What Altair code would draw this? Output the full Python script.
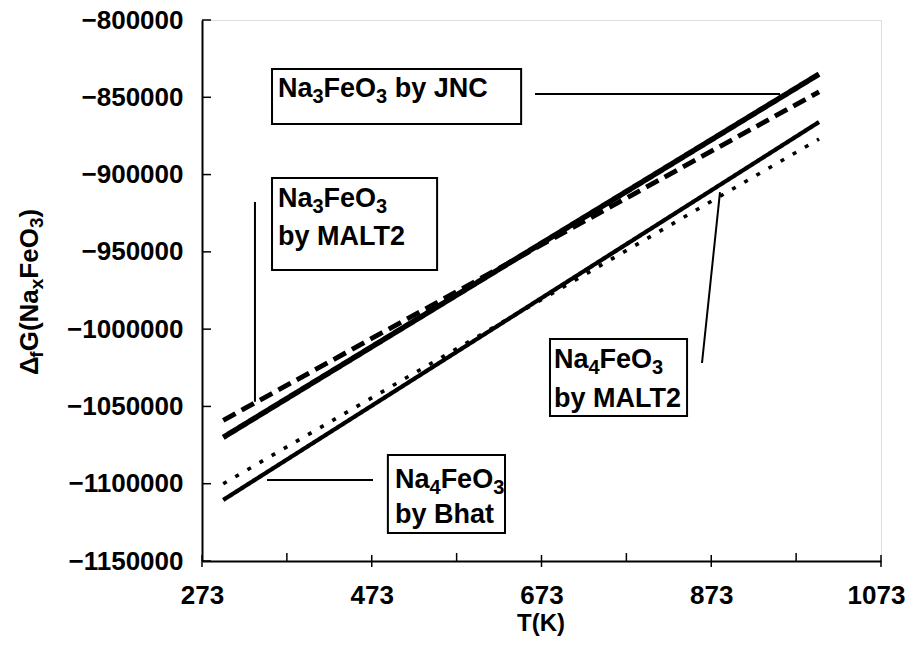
import altair as alt
import pandas as pd

# ---------------- data ----------------
T_ends = [298, 1000]
g_na3_jnc = [-1070000, -835000]
g_na3_malt2 = [-1059000, -846500]
g_na4_bhat = [-1110500, -866000]
g_na4_malt2 = [-1100000, -877000]
series = ["Na3FeO3 by JNC", "Na3FeO3 by MALT2", "Na4FeO3 by Bhat", "Na4FeO3 by MALT2"]

x_major = [273, 473, 673, 873, 1073]
x_minor = [373, 573, 773, 973]
y_major = [-1150000, -1100000, -1050000, -1000000, -950000, -900000, -850000, -800000]

# annotation boxes (data units)
box_x1 = [355.5, 355.5, 683.0, 492.0]
box_x2 = [649.0, 550.0, 844.5, 630.0]
box_y1 = [-831700, -902200, -1006400, -1081400]
box_y2 = [-867300, -961700, -1056200, -1131900]

# "_" marks the next character as a subscript
label_text = ["Na_3FeO_3 by JNC", "Na_3FeO_3", "by MALT2", "Na_4FeO_3", "by MALT2", "Na_4FeO_3", "by Bhat"]
label_x = [362.5, 362.5, 362.5, 687.7, 687.7, 500.4, 500.4]
label_y = [-849800, -921000, -945600, -1025100, -1050400, -1102800, -1125400]

ptr_x1 = [665.3, 335.4, 862.1, 349.6]
ptr_x2 = [954.0, 335.4, 883.3, 474.5]
ptr_y1 = [-847900, -917700, -1021900, -1097600]
ptr_y2 = [-847900, -1047000, -911300, -1097600]

y_title = "Δ_fG(Na_xFeO_3)"
x_title = "T(K)"

FONT = "Liberation Sans"
W, H = 679, 541
X0, X1 = 273, 1073
Y0, Y1 = -1150000, -800000
px_per_T = W / (X1 - X0)
G_per_px = (Y1 - Y0) / H

# Arial/Liberation Sans Bold advance widths (em)
ADV = {"N": .722, "a": .556, "F": .611, "e": .556, "O": .778, " ": .278, "b": .611,
       "y": .556, "J": .556, "C": .722, "M": .833, "A": .722, "L": .611, "T": .611,
       "B": .722, "h": .611, "t": .333, "G": .778, "(": .333, ")": .333, "x": .556,
       "f": .333, "Δ": .668, "K": .722}


def split_runs(s):
    runs, buf, i = [], "", 0
    while i < len(s):
        if s[i] == "_" and i + 1 < len(s):
            if buf:
                runs.append((buf, False))
                buf = ""
            runs.append((s[i + 1], True))
            i += 2
        else:
            buf += s[i]
            i += 1
    if buf:
        runs.append((buf, False))
    return runs


def width(txt, size):
    return sum(ADV.get(c, .556) for c in txt) * size


# ---------------- tables ----------------
rows = []
for name, vals in zip(series, [g_na3_jnc, g_na3_malt2, g_na4_bhat, g_na4_malt2]):
    for t, g in zip(T_ends, vals):
        rows.append({"series": name, "T": t, "G": g})
lines_df = pd.DataFrame(rows)

MAIN, SUB, SUB_DROP = 27, 20, 6
prow = []
for txt, lx, ly in zip(label_text, label_x, label_y):
    off = 0.0
    for run, sub in split_runs(txt):
        size = SUB if sub else MAIN
        lead = len(run) - len(run.lstrip(" "))
        off += width(" " * lead, size)
        run = run.lstrip(" ")
        prow.append({"text": run, "x": lx + off / px_per_T,
                     "y": ly - (SUB_DROP * G_per_px if sub else 0), "size": size})
        off += width(run, size)
pieces_df = pd.DataFrame(prow)

# rotated y title pieces (pixel coordinates relative to plot origin)
YT_MAIN, YT_SUB, YT_DROP = 26, 19, 5
yrow = []
ypos = 355.0
for run, sub in split_runs(y_title):
    size = YT_SUB if sub else YT_MAIN
    yrow.append({"text": run, "px": -164 + (YT_DROP if sub else 0), "py": ypos, "size": size})
    ypos -= width(run, size)
ytitle_df = pd.DataFrame(yrow)

boxes_df = pd.DataFrame({"x1": box_x1, "x2": box_x2, "y1": box_y1, "y2": box_y2})
ptr_df = pd.DataFrame({"x1": ptr_x1, "x2": ptr_x2, "y1": ptr_y1, "y2": ptr_y2})
xmaj_df = pd.DataFrame({"T": x_major})
xmin_df = pd.DataFrame({"T": x_minor})
ymaj_df = pd.DataFrame({"G": y_major})

xscale = alt.Scale(domain=[X0, X1], nice=False, zero=False)
yscale = alt.Scale(domain=[Y0, Y1], nice=False, zero=False)

lines = alt.Chart(lines_df).mark_line(color="black", strokeCap="butt").encode(
    x=alt.X("T:Q", scale=xscale,
            axis=alt.Axis(values=x_major, title=None, grid=False, ticks=False, tickSize=0,
                          labelPadding=21, labelFontSize=26, labelFont=FONT, labelFontWeight="bold",
                          labelColor="black", domainColor="black", domainWidth=2,
                          labelOffset={"condition": {"test": "datum.value == 1073", "value": -5},
                                       "value": 0},
                          labelFlush=False, format="d")),
    y=alt.Y("G:Q", scale=yscale,
            axis=alt.Axis(values=y_major, title=None, grid=False, ticks=False, tickSize=0,
                          labelPadding=19, labelFontSize=26, labelFont=FONT, labelFontWeight="bold",
                          labelColor="black", domainColor="black", domainWidth=2, format="d",
                          labelFlush=False)),
    strokeDash=alt.StrokeDash("series:N", scale=alt.Scale(domain=series,
                              range=[[1, 0], [14, 7], [1, 0], [4, 10]]), legend=None),
    strokeWidth=alt.StrokeWidth("series:N", scale=alt.Scale(domain=series,
                                range=[5.5, 3.6, 2.4, 4]), legend=None),
    detail="series:N",
)

xmaj_ticks = alt.Chart(xmaj_df).mark_rule(color="black", strokeWidth=1.5).encode(
    x=alt.X("T:Q", scale=xscale), y=alt.value(H - 6), y2=alt.value(H + 6))
xmin_ticks = alt.Chart(xmin_df).mark_rule(color="black", strokeWidth=1.5).encode(
    x=alt.X("T:Q", scale=xscale), y=alt.value(H - 8), y2=alt.value(H))
ymaj_ticks = alt.Chart(ymaj_df).mark_rule(color="black", strokeWidth=1.5).encode(
    y=alt.Y("G:Q", scale=yscale), x=alt.value(0), x2=alt.value(9))

pointers = alt.Chart(ptr_df).mark_rule(color="black", strokeWidth=2).encode(
    x=alt.X("x1:Q", scale=xscale), x2="x2:Q",
    y=alt.Y("y1:Q", scale=yscale), y2="y2:Q")

boxes = alt.Chart(boxes_df).mark_rect(fill="white", stroke="black", strokeWidth=2).encode(
    x=alt.X("x1:Q", scale=xscale), x2="x2:Q",
    y=alt.Y("y1:Q", scale=yscale), y2="y2:Q")

labels = alt.Chart(pieces_df).mark_text(align="left", baseline="alphabetic", font=FONT,
                                        fontWeight="bold", color="black").encode(
    x=alt.X("x:Q", scale=xscale), y=alt.Y("y:Q", scale=yscale), text="text:N",
    size=alt.Size("size:Q", scale=None, legend=None))

ytitle = alt.Chart(ytitle_df).mark_text(
    angle=270, align="left", baseline="alphabetic", font=FONT, fontWeight="bold",
    color="black").encode(
    x=alt.X("px:Q", scale=None), y=alt.Y("py:Q", scale=None), text="text:N",
    size=alt.Size("size:Q", scale=None, legend=None))

xtitle = alt.Chart(pd.DataFrame({"t": [x_title]})).mark_text(
    align="center", baseline="alphabetic", font=FONT, fontWeight="bold", fontSize=24,
    color="black").encode(x=alt.value(339), y=alt.value(611), text="t:N")

chart = alt.layer(
    lines, xmaj_ticks, xmin_ticks, ymaj_ticks, pointers, boxes, labels, ytitle, xtitle
).resolve_scale(size="independent").properties(
    width=W, height=H,
    autosize=alt.AutoSizeParams(type="none"),
    padding={"left": 194, "top": 12, "right": 25, "bottom": 75},
).configure_view(stroke="black", strokeWidth=2).configure(background="white")

chart.save("out.html", embed_options={"renderer": "svg", "actions": False})
